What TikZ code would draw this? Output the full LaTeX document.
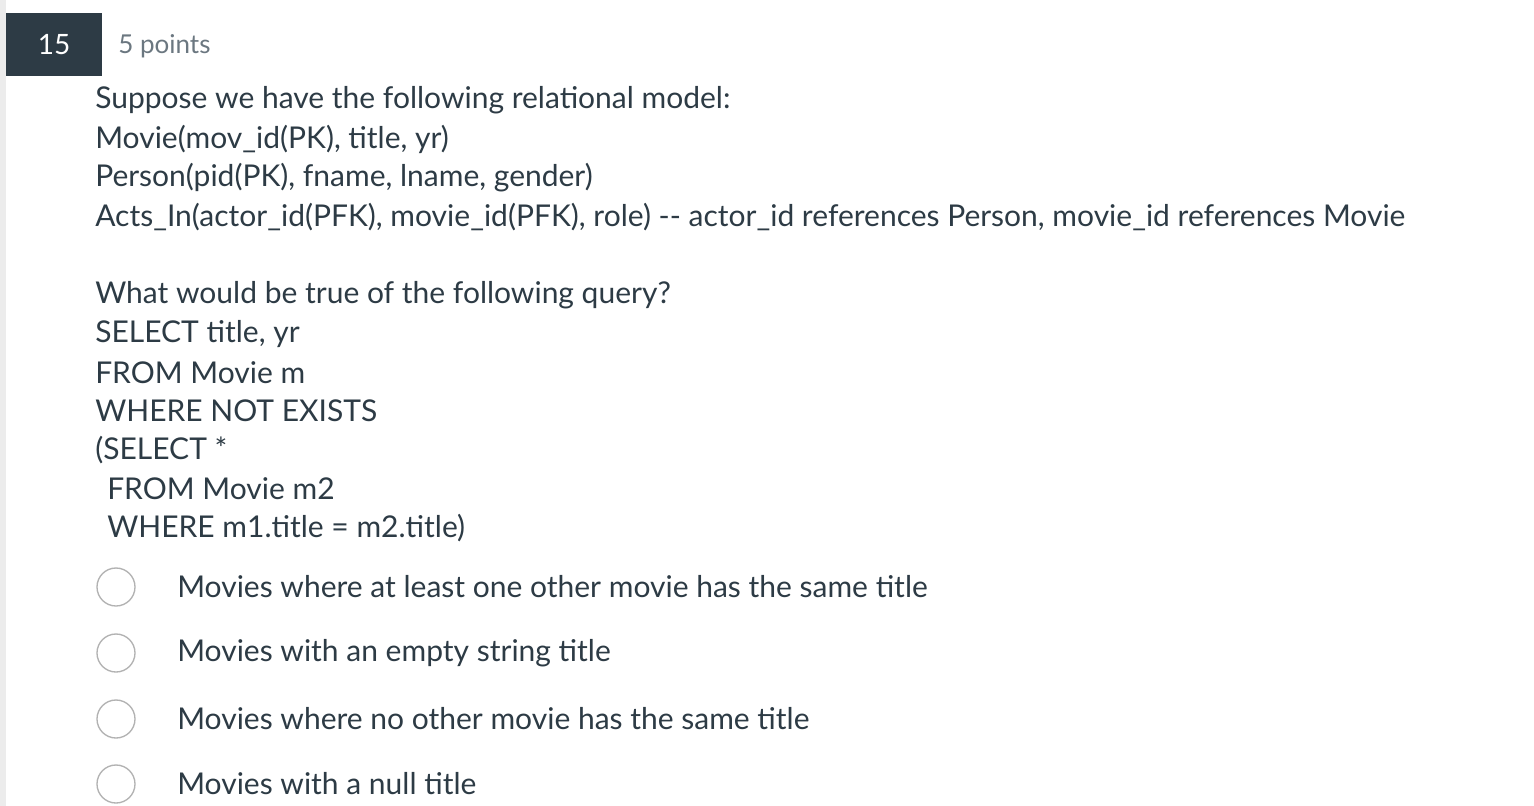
\documentclass[tikz,border=0pt]{standalone}
\usepackage{fontspec}
\setmainfont{Lato}
\definecolor{txt}{HTML}{2D3B45}
\definecolor{gr}{HTML}{6B7780}
\begin{document}
\begin{tikzpicture}[x=0.75pt,y=-0.75pt,
  line/.style={anchor=west,inner sep=0pt,text=txt,font=\fontsize{22.5}{26}\selectfont},
  radio/.style={circle,draw=gray!60,line width=1pt,minimum size=28.5pt,inner sep=0pt}]
\useasboundingbox[fill=white] (0,0) rectangle (1534,806);
\fill[gray!15] (0,0) rectangle (6,806);
\node[fill=txt,minimum width=72pt,minimum height=47.25pt,inner sep=0pt,text=white,font=\fontsize{21}{24}\selectfont] (num) at (54,45) {15};
\node[line,text=gr,font=\fontsize{19.5}{22}\selectfont] (pts) at (118,46) {5 points};
\node[line] (l1) at (95,100) {Suppose we have the following relational model:};
\node[line] (l2) at (95,139) {Movie(mov\_id(PK), title, yr)};
\node[line] (l3) at (95,178) {Person(pid(PK), fname, lname, gender)};
\node[line] (l4) at (95,217) {Acts\_In(actor\_id(PFK), movie\_id(PFK), role) -{}- actor\_id references Person, movie\_id references Movie};
\node[line] (l5) at (95,295) {What would be true of the following query?};
\node[line] (l6) at (95,334) {SELECT title, yr};
\node[line] (l7) at (95,373) {FROM Movie m};
\node[line] (l8) at (95,411) {WHERE NOT EXISTS};
\node[line] (l9) at (95,450) {(SELECT *};
\node[line] (l10) at (107,489) {FROM Movie m2};
\node[line] (l11) at (107,528) {WHERE m1.title = m2.title)};
\node[radio] (r1) at (116,587) {};
\node[radio] (r2) at (116,653) {};
\node[radio] (r3) at (116,719) {};
\node[radio] (r4) at (116,784) {};
\node[line] (o1) at (177,587) {Movies where at least one other movie has the same title};
\node[line] (o2) at (177,653) {Movies with an empty string title};
\node[line] (o3) at (177,719) {Movies where no other movie has the same title};
\node[line] (o4) at (177,784) {Movies with a null title};
\end{tikzpicture}
\end{document}
